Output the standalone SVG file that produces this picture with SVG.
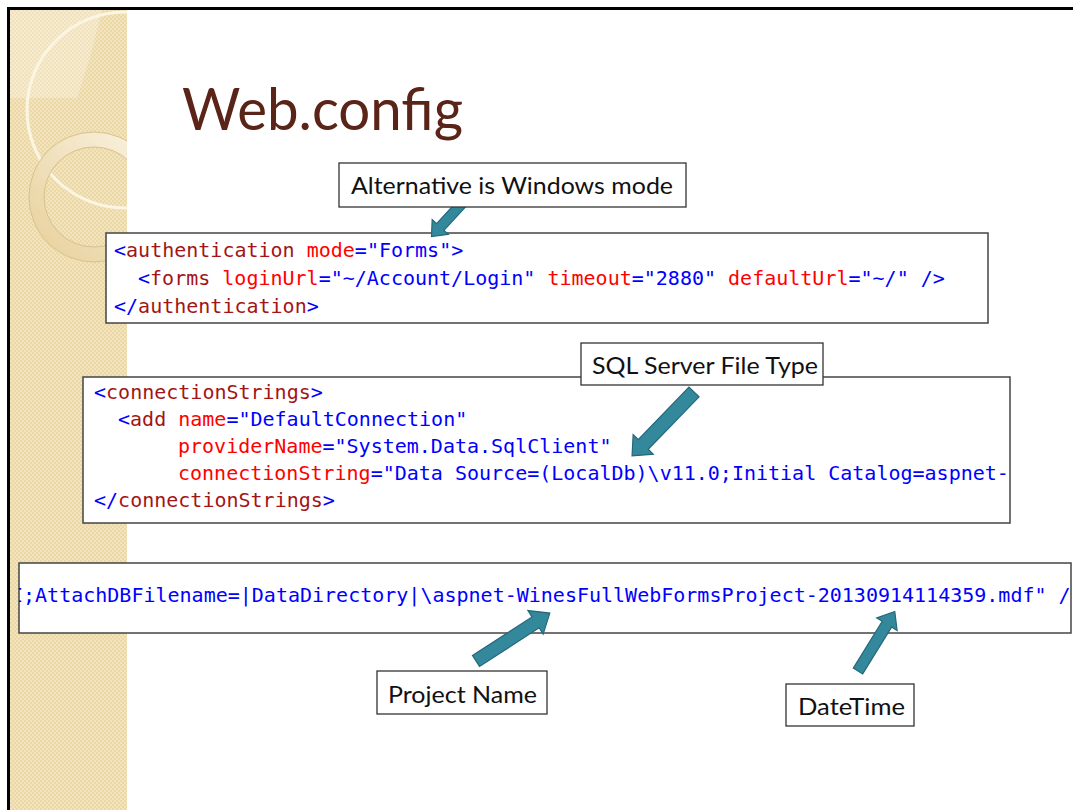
<svg xmlns="http://www.w3.org/2000/svg" width="1073" height="810" viewBox="0 0 1073 810">
<style>
.code{font-family:"DejaVu Sans Mono","Liberation Mono",monospace;font-size:20px;white-space:pre}
.lbl{font-family:Lato,"Open Sans",sans-serif;font-size:23px;fill:#111}
.box{fill:#fff;stroke:#333;stroke-width:1.3}
.cbox{fill:#fff;stroke:#444;stroke-width:1.5}
.b{fill:#0000ff}.t{fill:#a31515}.a{fill:#ff0000}
.arr{fill:#34889c;stroke:#24687a;stroke-width:1.2;stroke-linejoin:miter}
</style>
<defs>
<pattern id="chk" width="4" height="4" patternUnits="userSpaceOnUse">
<rect width="4" height="4" fill="#f3e4be"/>
<rect width="2" height="2" fill="#ebd8a7"/>
<rect x="2" y="2" width="2" height="2" fill="#ebd8a7"/>
</pattern>
<clipPath id="band"><rect x="9.5" y="9.5" width="117.5" height="801"/></clipPath>
<linearGradient id="ringg" x1="1" y1="0" x2="0" y2="1">
<stop offset="0" stop-color="#fbf4e4"/>
<stop offset="1" stop-color="#e6cf98"/>
</linearGradient>
<clipPath id="c1"><rect x="106" y="233" width="882" height="90"/></clipPath>
<clipPath id="c2"><rect x="83" y="377" width="927" height="146"/></clipPath>
<clipPath id="c3"><rect x="19" y="563" width="1052" height="70"/></clipPath>
</defs>

<g id="background">
<rect width="1073" height="810" fill="#fff"/>
<rect x="9.5" y="9.5" width="117.5" height="801" fill="url(#chk)"/>
<g clip-path="url(#band)">
<path d="M9.5,9.5 H102 Q92,55 77,98 H9.5 Z" fill="#fff" fill-opacity="0.25"/>
<circle cx="125" cy="110" r="98" fill="none" stroke="#fcf5e3" stroke-width="3"/>
<path d="M159,197 A65,65 0 1 0 29,197 A65,65 0 1 0 159,197 Z M144,197 A50,50 0 1 1 44,197 A50,50 0 1 1 144,197 Z" fill="url(#ringg)" fill-rule="evenodd" stroke="#d8c08a" stroke-width="1"/>
</g>
<path d="M8.5,810 V8.5 H1073" fill="none" stroke="#000" stroke-width="3"/>
</g>

<g id="title">
<text x="182" y="130" font-family="Lato,'Open Sans',sans-serif" font-size="58" fill="#5a2418" textLength="281" lengthAdjust="spacingAndGlyphs">Web.config</text>
</g>

<g id="code-authentication">
<rect class="cbox" x="106" y="233" width="882" height="90"/>
<g clip-path="url(#c1)">
<text class="code" x="114" y="257"><tspan class="b">&lt;</tspan><tspan class="t">authentication</tspan> <tspan class="a">mode</tspan><tspan class="b">="Forms"&gt;</tspan></text>
<text class="code" x="138" y="285"><tspan class="b">&lt;</tspan><tspan class="t">forms</tspan> <tspan class="a">loginUrl</tspan><tspan class="b">="~/Account/Login"</tspan> <tspan class="a">timeout</tspan><tspan class="b">="2880"</tspan> <tspan class="a">defaultUrl</tspan><tspan class="b">="~/" /&gt;</tspan></text>
<text class="code" x="114" y="313"><tspan class="b">&lt;/</tspan><tspan class="t">authentication</tspan><tspan class="b">&gt;</tspan></text>
</g>
</g>

<g id="code-connectionstrings">
<rect class="cbox" x="83" y="377" width="927" height="146"/>
<g clip-path="url(#c2)">
<text class="code" x="94" y="399"><tspan class="b">&lt;</tspan><tspan class="t">connectionStrings</tspan><tspan class="b">&gt;</tspan></text>
<text class="code" x="118" y="426"><tspan class="b">&lt;</tspan><tspan class="t">add</tspan> <tspan class="a">name</tspan><tspan class="b">="DefaultConnection"</tspan></text>
<text class="code" x="178" y="453"><tspan class="a">providerName</tspan><tspan class="b">="System.Data.SqlClient"</tspan></text>
<text class="code" x="178" y="480"><tspan class="a">connectionString</tspan><tspan class="b">="Data Source=(LocalDb)\v11.0;Initial Catalog=aspnet-</tspan></text>
<text class="code" x="94" y="507"><tspan class="b">&lt;/</tspan><tspan class="t">connectionStrings</tspan><tspan class="b">&gt;</tspan></text>
</g>
</g>

<g id="code-attachdb">
<rect class="cbox" x="19" y="563" width="1052" height="70"/>
<g clip-path="url(#c3)">
<text class="code" x="11" y="602"><tspan class="b">I;AttachDBFilename=|DataDirectory|\aspnet-WinesFullWebFormsProject-20130914114359.mdf" /</tspan></text>
</g>
</g>

<g id="connectors">
<polygon class="arr" points="0,-5 38,-5 38,-11 51,0 38,11 38,5 0,5" transform="translate(466,199) rotate(132.6)"/>
<polygon class="arr" points="0,-7 73,-7 73,-14 89,0 73,14 73,7 0,7" transform="translate(694,392) rotate(134.1)"/>
<polygon class="arr" points="0,-6.5 71,-6.5 71,-14 88,0 71,14 71,6.5 0,6.5" transform="translate(476,661) rotate(-33)"/>
<polygon class="arr" points="0,-5.5 55,-5.5 55,-12 70,0 55,12 55,5.5 0,5.5" transform="translate(858,671) rotate(-58.3)"/>
</g>

<g id="callout-windows">
<rect class="box" x="339" y="163" width="347" height="44"/>
<text class="lbl" x="351" y="194" textLength="322" lengthAdjust="spacingAndGlyphs">Alternative is Windows mode</text>
</g>

<g id="callout-sql">
<rect class="box" x="581" y="343" width="242" height="42"/>
<text class="lbl" x="592" y="374" textLength="226" lengthAdjust="spacingAndGlyphs">SQL Server File Type</text>
</g>

<g id="callout-project">
<rect class="box" x="377" y="671" width="170" height="43"/>
<text class="lbl" x="388" y="703" textLength="149" lengthAdjust="spacingAndGlyphs">Project Name</text>
</g>

<g id="callout-datetime">
<rect class="box" x="786" y="684" width="128" height="42"/>
<text class="lbl" x="798" y="715" textLength="107" lengthAdjust="spacingAndGlyphs">DateTime</text>
</g>
</svg>
